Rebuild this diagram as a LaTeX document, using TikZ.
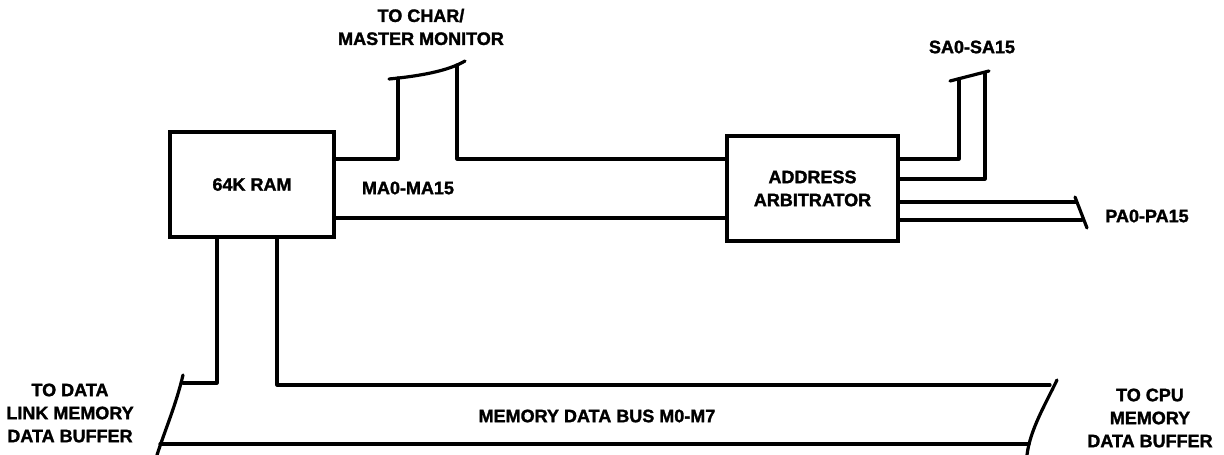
\documentclass[tikz,border=0pt]{standalone}
\usepackage{fontspec}
\setmainfont{Liberation Sans}[BoldFeatures={FakeBold=1.6}]
\begin{document}
\begin{tikzpicture}[x=1pt,y=-1pt,
  bus/.style={line width=3.2pt,line cap=round,line join=round},
  blk/.style={draw,line width=3.4pt,minimum width=164pt,minimum height=105pt,inner sep=0pt,
    font=\fontsize{18}{23}\selectfont\bfseries,align=center},
  lbl/.style={font=\fontsize{18}{23}\selectfont\bfseries,align=center,inner sep=0pt}]
\useasboundingbox (0,0) rectangle (1224,455);
% blocks
\node[blk] (ram) at (252,184.5) {64K RAM};
\node[blk,minimum width=171pt] (arb) at (812.5,188.5) {ADDRESS\\ARBITRATOR};
% labels
\node[lbl] (tchar) at (421,27) {TO CHAR/\\MASTER MONITOR};
\node[lbl] (ma) at (408,188) {MA0-MA15};
\node[lbl] (sa) at (972,47) {SA0-SA15};
\node[lbl] (pa) at (1147,216) {PA0-PA15};
\node[lbl] (mdb) at (597,416) {MEMORY DATA BUS M0-M7};
\node[lbl] (tdl) at (70,413) {TO DATA\\LINK MEMORY\\DATA BUFFER};
\node[lbl] (tcpu) at (1150,418) {TO CPU\\MEMORY\\DATA BUFFER};
% coordinates
\coordinate (m1) at (398,159);
\coordinate (m1t) at (398,78);
\coordinate (m2) at (457,159);
\coordinate (m2t) at (457,65);
\coordinate (c1) at (389,79);
\coordinate (c2) at (465,61);
\coordinate (s1) at (959,159);
\coordinate (s1t) at (959,80);
\coordinate (s2) at (985,179);
\coordinate (s2t) at (985,73);
\coordinate (sc1) at (950,81);
\coordinate (sc2) at (989,71);
\coordinate (p1) at (1076,202);
\coordinate (p2) at (1082,220);
\coordinate (pc1) at (1075,197);
\coordinate (pc2) at (1087,228);
\coordinate (d1) at (217,383);
\coordinate (d1e) at (183,383);
\coordinate (d2) at (277,385);
\coordinate (d2e) at (1050,385);
\coordinate (lc1) at (183,375);
\coordinate (lc2) at (157,455);
\coordinate (rc1) at (1057,380);
\coordinate (rc2) at (1027,455);
\coordinate (b1) at (160,444);
\coordinate (b2) at (1029,444);
% MA bus
\draw[bus] (ram.east |- m1) -- (m1) -- (m1t);
\draw[bus] (m2t) -- (m2) -- (arb.west |- m2);
\draw[bus] (c1) .. controls (420,76) and (448,71) .. (c2);
\draw[bus] (ram.east |- 0,218) -- (arb.west |- 0,218);
% SA bus
\draw[bus] (arb.east |- s1) -- (s1) -- (s1t);
\draw[bus] (arb.east |- s2) -- (s2) -- (s2t);
\draw[bus] (sc1) -- (sc2);
% PA bus
\draw[bus] (arb.east |- p1) -- (p1);
\draw[bus] (arb.east |- p2) -- (p2);
\draw[bus] (pc1) -- (pc2);
% memory data bus
\draw[bus] (ram.south -| d1) -- (d1) -- (d1e);
\draw[bus] (ram.south -| d2) -- (d2) -- (d2e);
\draw[bus] (lc1) .. controls (176,405) and (165,430) .. (lc2);
\draw[bus] (rc1) .. controls (1045,405) and (1030,430) .. (rc2);
\draw[bus] (b1) -- (b2);
\end{tikzpicture}
\end{document}
